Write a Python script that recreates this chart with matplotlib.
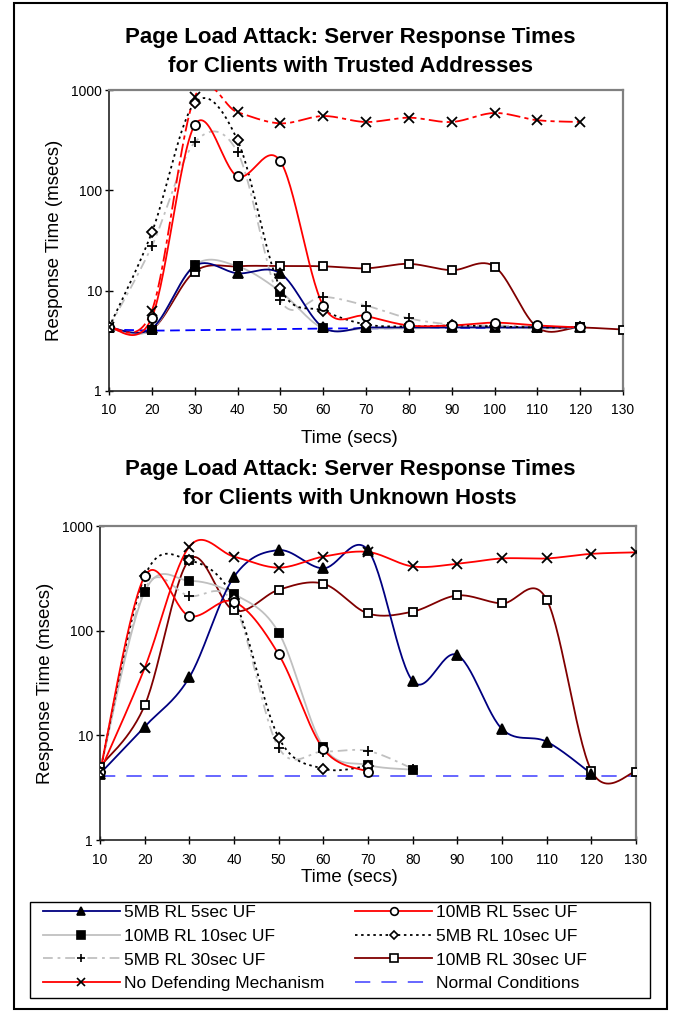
import numpy as np
import matplotlib
matplotlib.use("Agg")
import matplotlib.pyplot as plt
from matplotlib.lines import Line2D
from matplotlib.patches import Rectangle

plt.rcParams['font.family'] = ['Liberation Sans', 'DejaVu Sans']
plt.rcParams['lines.scale_dashes'] = False

# ---------------- data ----------------
time_secs = [10, 20, 30, 40, 50, 60, 70, 80, 90, 100, 110, 120, 130]
tick_labels = [str(t) for t in time_secs]
y_ticks = [1, 10, 100, 1000]
y_tick_labels = ['1', '10', '100', '1000']

series_labels = ['5MB RL 5sec UF', '10MB RL 5sec UF', '10MB RL 10sec UF',
                 '5MB RL 10sec UF', '5MB RL 30sec UF', '10MB RL 30sec UF',
                 'No Defending Mechanism', 'Normal Conditions']

# Trusted addresses (top chart)
trusted_5mb_5s = [4.3, 4.2, 17.6, 14.9, 14.9, 4.3, 4.3, 4.3, 4.3, 4.3, 4.3, 4.3]
trusted_10mb_5s = [4.3, 5.4, 447, 138, 195, 7.1, 5.6, 4.5, 4.5, 4.8, 4.5, 4.3]
trusted_10mb_10s = [4.2, 4.1, 18, 17.5, 9.8, 4.2, 4.2, 4.2, 4.3, 4.3, 4.2, 4.3]
trusted_5mb_10s = [4.3, 38, 740, 316, 10.6, 6.3, 4.6, 4.4, 4.5, 4.4, 4.3, 4.3]
trusted_5mb_30s = [4.3, 27.7, 300, 240, 8.0, 8.7, 7.1, 5.3, 4.6, 4.5, 4.4, 4.3]
trusted_10mb_30s = [4.2, 4.1, 15.5, 17.5, 17.6, 17.5, 16.7, 18.5, 16.0, 17.4, 4.3, 4.3, 4.1]
trusted_no_defense = [4.3, 6.3, 850, 600, 465, 550, 480, 530, 480, 590, 500, 480]
trusted_normal = [4.1, 4.0, 4.05, 4.1, 4.15, 4.2, 4.2, 4.25, 4.25, 4.25, 4.25, 4.3]

# Unknown hosts (bottom chart)
unknown_5mb_5s = [4.3, 12.1, 35.8, 327, 588, 394, 588, 33, 58.5, 11.5, 8.7, 4.3]
unknown_10mb_5s = [4.5, 331, 138, 189, 59.4, 7.4, 4.5]
unknown_10mb_10s = [4.5, 235, 300, 224, 96, 7.8, 5.2, 4.7]
unknown_5mb_10s = [4.5, 330, 470, 200, 9.5, 4.8, 5.1]
unknown_5mb_30s = [4.5, 250, 214, 180, 7.6, 7.0, 7.1, 4.8]
unknown_10mb_30s = [5.0, 19.3, 478, 156, 246, 281, 146, 152, 217, 182, 198, 4.6, 4.5]
unknown_no_defense = [4.5, 44, 635, 510, 400, 510, 565, 411, 435, 490, 490, 542, 560]
unknown_normal = [4.1] * 13

# ---------------- helpers ----------------
W, H = 676, 1011


def rect(l, t, r, b):
    return [l / W, 1 - b / H, (r - l) / W, (b - t) / H]


def smooth(x, y, n=30):
    """Excel-like smoothed line (Catmull-Rom Bezier in log-space)."""
    pts = np.column_stack([np.asarray(x, float), np.log10(np.asarray(y, float))])
    out = []
    m = len(pts)
    for i in range(m - 1):
        p0 = pts[i - 1] if i > 0 else pts[i]
        p1 = pts[i]
        p2 = pts[i + 1]
        p3 = pts[i + 2] if i + 2 < m else pts[i + 1]
        c1 = p1 + (p2 - p0) / 6.0
        c2 = p2 - (p3 - p1) / 6.0
        t = np.linspace(0, 1, n, endpoint=(i == m - 2))[:, None]
        seg = ((1 - t) ** 3) * p1 + 3 * ((1 - t) ** 2) * t * c1 + 3 * (1 - t) * t ** 2 * c2 + t ** 3 * p2
        out.append(seg)
    out = np.vstack(out)
    return out[:, 0], 10 ** out[:, 1]


STY = {
    '5mb5': dict(color='#000080', ls='-', marker='^', ms=6.5, mfc='black', mec='black'),
    '10mb5': dict(color='#ff0000', ls='-', marker='o', ms=6.5, mfc='white', mec='black'),
    '10mb10': dict(color='#c0c0c0', ls='-', marker='s', ms=6, mfc='black', mec='black'),
    '5mb10': dict(color='black', ls=(0, (1.8, 2.6)), marker='D', ms=4.8, mfc='white', mec='black'),
    '5mb30': dict(color='#c0c0c0', ls=(0, (7, 3.5, 2, 3.5)), marker='+', ms=7.5, mfc='black', mec='black'),
    '10mb30': dict(color='#800000', ls='-', marker='s', ms=6, mfc='white', mec='black'),
    'nodef': dict(color='#ff0000', ls='-', marker='x', ms=6.5, mfc='black', mec='black'),
    'normal': dict(color='#5a5aff', ls=(0, (11, 8)), marker=None),
}
LW = 1.3


def draw(ax, key, y, ls=None, color=None, z=3):
    st = dict(STY[key])
    x = time_secs[:len(y)]
    xs, ys = smooth(x, y)
    ax.plot(xs, ys, color=color or st['color'], ls=ls or st['ls'], lw=LW, zorder=z)
    if st['marker']:
        ax.plot(x, y, ls='none', marker=st['marker'], ms=st['ms'], mfc=st['mfc'],
                mec=st['mec'], mew=1.3, zorder=z + 5)


def style_axes(ax):
    ax.set_yscale('log')
    ax.set_xlim(10, 130)
    ax.set_ylim(1, 1000)
    ax.set_xticks(time_secs)
    ax.set_xticklabels(tick_labels)
    ax.set_yticks(y_ticks)
    ax.set_yticklabels(y_tick_labels)
    ax.minorticks_off()
    ax.tick_params(axis='both', direction='inout', length=6, width=1, labelsize=10,
                   colors='black', pad=2)
    ax.tick_params(axis='x', pad=6)
    for s in ['left', 'bottom']:
        ax.spines[s].set_color('#222222')
        ax.spines[s].set_linewidth(1.2)
    for s in ['top', 'right']:
        ax.spines[s].set_color('#808080')
        ax.spines[s].set_linewidth(1.6)
    ax.set_ylabel('Response Time (msecs)', fontsize=13.5, labelpad=6)


fig = plt.figure(figsize=(W / 100, H / 100), dpi=100)

# ---------------- top chart ----------------
ax1 = fig.add_axes(rect(109, 90, 623, 391))
draw(ax1, 'normal', trusted_normal, ls=(0, (7, 4)), color='#0000ff', z=2)
draw(ax1, '10mb30', trusted_10mb_30s)
draw(ax1, '10mb10', trusted_10mb_10s)
draw(ax1, '5mb30', trusted_5mb_30s)
draw(ax1, '5mb5', trusted_5mb_5s)
draw(ax1, '5mb10', trusted_5mb_10s)
draw(ax1, '10mb5', trusted_10mb_5s)
draw(ax1, 'nodef', trusted_no_defense, ls=(0, (10, 3, 3, 3)))
style_axes(ax1)
fig.text(349 / W, 1 - 438 / H, 'Time (secs)', ha='center', va='center', fontsize=13.5)
fig.text(350 / W, 1 - 38 / H, 'Page Load Attack: Server Response Times', ha='center',
         va='center', fontsize=16, fontweight='bold')
fig.text(350 / W, 1 - 67 / H, 'for Clients with Trusted Addresses', ha='center',
         va='center', fontsize=16, fontweight='bold')

# ---------------- bottom chart ----------------
ax2 = fig.add_axes(rect(100, 526, 636, 840))
draw(ax2, 'normal', unknown_normal, z=2)
draw(ax2, '10mb30', unknown_10mb_30s)
draw(ax2, '10mb10', unknown_10mb_10s)
draw(ax2, '5mb30', unknown_5mb_30s)
draw(ax2, '5mb5', unknown_5mb_5s)
draw(ax2, '5mb10', unknown_5mb_10s)
draw(ax2, '10mb5', unknown_10mb_5s)
draw(ax2, 'nodef', unknown_no_defense)
style_axes(ax2)
fig.text(349 / W, 1 - 878 / H, 'Time (secs)', ha='center', va='center', fontsize=13.5)
fig.text(350 / W, 1 - 470 / H, 'Page Load Attack: Server Response Times', ha='center',
         va='center', fontsize=16, fontweight='bold')
fig.text(350 / W, 1 - 499 / H, 'for Clients with Unknown Hosts', ha='center',
         va='center', fontsize=16, fontweight='bold')

# ---------------- legend ----------------
keys = ['5mb5', '10mb5', '10mb10', '5mb10', '5mb30', '10mb30', 'nodef', 'normal']
handles = []
for k in keys:
    st = STY[k]
    handles.append(Line2D([], [], color=st['color'], ls=st['ls'], lw=LW,
                          marker=st['marker'] or None, ms=st.get('ms', 0) * 0.85,
                          mfc=st.get('mfc'), mec=st.get('mec'), mew=1.2))
order = [0, 2, 4, 6, 1, 3, 5, 7]
fs = 12.5
fig.legend([handles[i] for i in order], [series_labels[i] for i in order],
           ncol=2, loc='upper left', bbox_to_anchor=(41 / W, 1 - 903 / H),
           frameon=False, fontsize=fs, handlelength=77 / (fs * 1.389),
           handletextpad=4 / (fs * 1.389), columnspacing=1.8, labelspacing=0.5,
           borderpad=0.1, borderaxespad=0, numpoints=1)
fig.add_artist(Rectangle((30 / W, 1 - 998 / H), 620 / W, 96 / H, transform=fig.transFigure,
                         fill=False, edgecolor='black', lw=1))
fig.add_artist(Rectangle((14 / W, 1 - 1009 / H), 653 / W, 1006 / H, transform=fig.transFigure,
                         fill=False, edgecolor='black', lw=1.5))

fig.savefig('out.png', dpi=100)
